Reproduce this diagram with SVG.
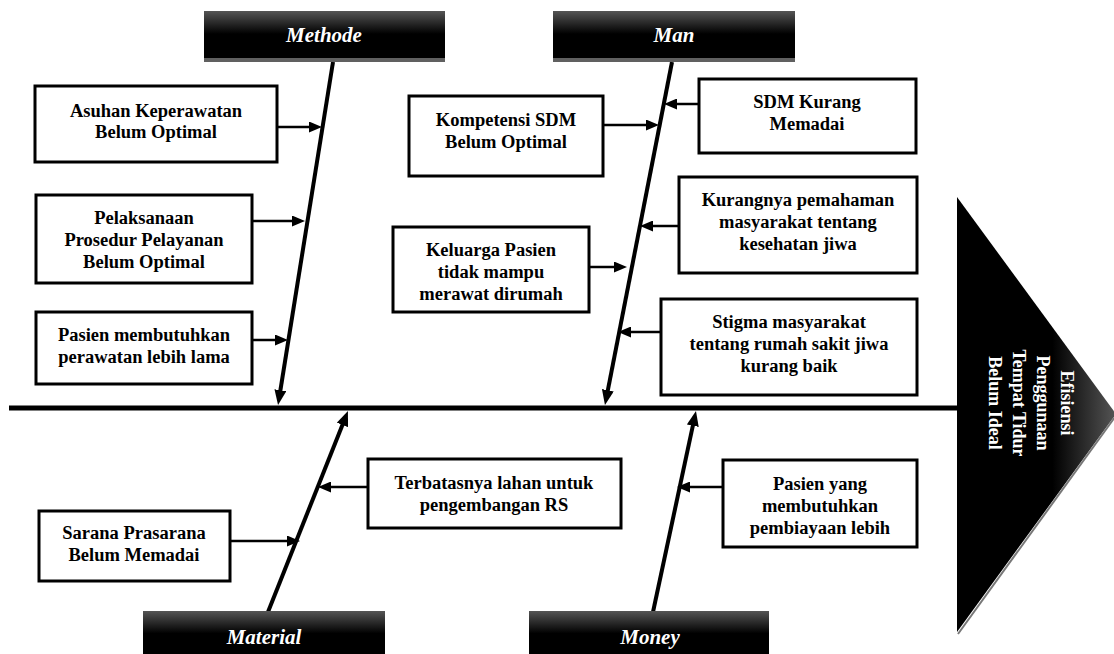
<svg xmlns="http://www.w3.org/2000/svg" width="1114" height="654" viewBox="0 0 1114 654">
<style>
.box rect{fill:#fff;stroke:#000;stroke-width:3}
.t{font-family:"Liberation Serif","Times New Roman",serif;font-weight:bold;font-size:18.5px;text-anchor:middle;fill:#000}
.ht{font-family:"Liberation Serif","Times New Roman",serif;font-weight:bold;font-style:italic;font-size:21px;text-anchor:middle;fill:#fff}
.et{font-family:"Liberation Serif","Times New Roman",serif;font-weight:bold;font-size:18px;text-anchor:middle;fill:#fff}
.spine{stroke:#000;stroke-width:4;fill:none;marker-end:url(#big)}
.arr{stroke:#000;stroke-width:2.5;fill:none;marker-end:url(#small)}
</style>
<defs>
<linearGradient id="hg" x1="0" y1="0" x2="0" y2="1">
<stop offset="0" stop-color="#555"/>
<stop offset="0.45" stop-color="#000"/>
<stop offset="1" stop-color="#000"/>
</linearGradient>
<linearGradient id="tg" x1="0" y1="0" x2="1" y2="0">
<stop offset="0" stop-color="#000"/>
<stop offset="0.6" stop-color="#000"/>
<stop offset="1" stop-color="#555"/>
</linearGradient>
<marker id="big" viewBox="0 0 15 12" refX="7" refY="6" markerWidth="15" markerHeight="12" markerUnits="userSpaceOnUse" orient="auto">
<path d="M0,0 L15,6 L0,12 z" fill="#000"/>
</marker>
<marker id="small" viewBox="0 0 13 11" refX="6" refY="5.5" markerWidth="13" markerHeight="11" markerUnits="userSpaceOnUse" orient="auto">
<path d="M0,0 L13,5.5 L0,11 z" fill="#000"/>
</marker>
</defs>

<g id="connectors">
<line x1="9" y1="408" x2="958" y2="408" stroke="#000" stroke-width="5"/>
<line class="spine" x1="333" y1="62" x2="279.3" y2="397.1"/>
<line class="spine" x1="672" y1="62" x2="606.5" y2="397.1"/>
<line class="spine" x1="268" y1="612" x2="345" y2="418.4"/>
<line class="spine" x1="653" y1="612" x2="694.3" y2="418.8"/>
<line class="arr" x1="277" y1="127" x2="315" y2="127"/>
<line class="arr" x1="252" y1="221" x2="298" y2="221"/>
<line class="arr" x1="252" y1="340" x2="281" y2="340"/>
<line class="arr" x1="603" y1="125" x2="652" y2="125"/>
<line class="arr" x1="699" y1="104" x2="671" y2="104"/>
<line class="arr" x1="679" y1="226" x2="647" y2="226"/>
<line class="arr" x1="589" y1="267" x2="620" y2="267"/>
<line class="arr" x1="661" y1="332" x2="625" y2="332"/>
<line class="arr" x1="368" y1="487" x2="325" y2="487"/>
<line class="arr" x1="230" y1="541" x2="293" y2="541"/>
<line class="arr" x1="723" y1="487" x2="684" y2="487"/>
</g>

<g id="head-methode">
<rect x="204" y="11" width="241" height="51" fill="url(#hg)"/>
<rect x="204" y="58" width="241" height="4" fill="#606060"/>
<text class="ht" x="324" y="42">Methode</text>
</g>
<g id="head-man">
<rect x="553" y="11" width="242" height="51" fill="url(#hg)"/>
<rect x="553" y="58" width="242" height="4" fill="#606060"/>
<text class="ht" x="674" y="42">Man</text>
</g>
<g id="head-material">
<rect x="143" y="611" width="242" height="50" fill="url(#hg)"/>
<text class="ht" x="264" y="644">Material</text>
</g>
<g id="head-money">
<rect x="529" y="611" width="240" height="50" fill="url(#hg)"/>
<text class="ht" x="650" y="644">Money</text>
</g>

<g id="effect">
<polygon points="957,197 1116,414 957,632" fill="url(#tg)"/>
<line x1="1115" y1="417" x2="958" y2="634" stroke="#777" stroke-width="2"/>
<g transform="translate(1030,403) rotate(90)">
<text class="et" x="0" y="-31">Efisiensi</text>
<text class="et" x="0" y="-7">Penggunaan</text>
<text class="et" x="0" y="17">Tempat Tidur</text>
<text class="et" x="0" y="41">Belum Ideal</text>
</g>
</g>

<g id="asuhan" class="box">
<rect x="35" y="86" width="242" height="76"/>
<text class="t" x="156" y="117">Asuhan Keperawatan</text>
<text class="t" x="156" y="138">Belum Optimal</text>
</g>
<g id="pelaksanaan" class="box">
<rect x="36" y="195" width="216" height="88"/>
<text class="t" x="144" y="224">Pelaksanaan</text>
<text class="t" x="144" y="246">Prosedur Pelayanan</text>
<text class="t" x="144" y="268">Belum Optimal</text>
</g>
<g id="pasien-lama" class="box">
<rect x="36" y="312" width="216" height="72"/>
<text class="t" x="144" y="341">Pasien membutuhkan</text>
<text class="t" x="144" y="363">perawatan lebih lama</text>
</g>
<g id="kompetensi" class="box">
<rect x="409" y="96" width="194" height="80"/>
<text class="t" x="506" y="126">Kompetensi SDM</text>
<text class="t" x="506" y="148">Belum Optimal</text>
</g>
<g id="sdm-kurang" class="box">
<rect x="699" y="79" width="217" height="74"/>
<text class="t" x="807" y="108">SDM Kurang</text>
<text class="t" x="807" y="130">Memadai</text>
</g>
<g id="kurangnya" class="box">
<rect x="679" y="177" width="238" height="96"/>
<text class="t" x="798" y="206">Kurangnya pemahaman</text>
<text class="t" x="798" y="228">masyarakat tentang</text>
<text class="t" x="798" y="250">kesehatan jiwa</text>
</g>
<g id="keluarga" class="box">
<rect x="393" y="227" width="196" height="85"/>
<text class="t" x="491" y="256">Keluarga Pasien</text>
<text class="t" x="491" y="278">tidak mampu</text>
<text class="t" x="491" y="300">merawat dirumah</text>
</g>
<g id="stigma" class="box">
<rect x="661" y="299" width="256" height="96"/>
<text class="t" x="789" y="328">Stigma masyarakat</text>
<text class="t" x="789" y="350">tentang rumah sakit jiwa</text>
<text class="t" x="789" y="372">kurang baik</text>
</g>
<g id="terbatasnya" class="box">
<rect x="368" y="459" width="253" height="69"/>
<text class="t" x="494" y="489">Terbatasnya lahan untuk</text>
<text class="t" x="494" y="511">pengembangan RS</text>
</g>
<g id="sarana" class="box">
<rect x="39" y="511" width="191" height="70"/>
<text class="t" x="134" y="539">Sarana Prasarana</text>
<text class="t" x="134" y="561">Belum Memadai</text>
</g>
<g id="pasien-biaya" class="box">
<rect x="723" y="460" width="194" height="87"/>
<text class="t" x="820" y="490">Pasien yang</text>
<text class="t" x="820" y="512">membutuhkan</text>
<text class="t" x="820" y="534">pembiayaan lebih</text>
</g>
</svg>
